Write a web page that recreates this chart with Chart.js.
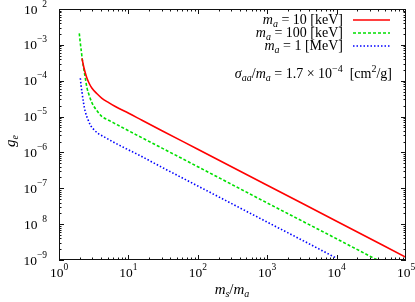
<!DOCTYPE html>
<html>
<head>
<meta charset="utf-8">
<script src="https://cdn.jsdelivr.net/npm/chart.js@4.4.1/dist/chart.umd.min.js"></script>
<style>
  html, body { margin: 0; padding: 0; background: #fff; }
  #wrap { width: 415px; height: 302px; }
</style>
</head>
<body>
<div id="wrap"><canvas id="chart" width="415" height="302"></canvas></div>
<script>
// --- DATA ---
const ratio10keV = [2.14, 2.2, 2.27, 2.4, 2.53, 2.75, 2.99, 3.5, 4.16, 5.2, 6.48, 10.1, 15.7, 30, 100, 1000, 10000, 100000];
const g10keV     = [4.2e-4, 3.3e-4, 2.46e-4, 1.62e-4, 1.17e-4, 8.1e-5, 6.15e-5, 4.4e-5, 3.24e-5, 2.45e-5, 1.9e-5, 1.24e-5, 7.9e-6, 4.1e-6, 1.23e-6, 1.22e-7, 1.2e-8, 1.19e-9];

const ratio100keV = [1.96, 2.02, 2.1, 2.18, 2.27, 2.4, 2.53, 2.75, 2.99, 3.5, 4.16, 5.2, 6.48, 10.1, 15.7, 30, 100, 1000, 10000, 38600];
const g100keV     = [2.1e-3, 1.2e-3, 6.5e-4, 3.6e-4, 2.2e-4, 1.15e-4, 6.3e-5, 3.7e-5, 2.4e-5, 1.48e-5, 1.0e-5, 7.9e-6, 6.3e-6, 4.0e-6, 2.56e-6, 1.34e-6, 4.0e-7, 3.9e-8, 3.9e-9, 1.0e-9];

const ratio1MeV = [2.03, 2.08, 2.14, 2.25, 2.39, 2.6, 2.83, 3.2, 3.73, 4.6, 5.8, 7.6, 10.1, 14.1, 30, 100, 1000, 3000, 10000];
const g1MeV     = [1.17e-4, 7.4e-5, 4.9e-5, 2.5e-5, 1.38e-5, 8.5e-6, 5.8e-6, 4.27e-6, 3.3e-6, 2.63e-6, 2.04e-6, 1.55e-6, 1.17e-6, 8.5e-7, 3.9e-7, 1.16e-7, 1.14e-8, 3.8e-9, 1.12e-9];

const massValues = ['10', '100', '1'];
const massUnits  = ['keV', 'keV', 'MeV'];
const sigmaOverM = '1.7';

// tick labels: exponent of 10 (the reference drops the minus on two of them)
const xTickExps = ['0', '1', '2', '3', '4', '5'];
const yTickExps = ['−9', '  8', '−7', '−6', '−5', '−4', '−3', '  2'];

const SERIF = '"Liberation Serif", "DejaVu Serif", serif';
const pts = (xs, ys) => xs.map((v, i) => ({ x: v, y: ys[i] }));

// draw a run of text pieces: [text, size, italic, dy]
const fnt = p => `${p[2] ? 'italic ' : ''}${p[1]}px ${SERIF}`;
function rich(ctx, parts, x, y, align) {
    let w = 0;
    parts.forEach(p => { ctx.font = fnt(p); w += ctx.measureText(p[0]).width; });
    let cx = align === 'right' ? x - w : align === 'center' ? x - w / 2 : x;
    parts.forEach(p => {
        ctx.font = fnt(p);
        ctx.fillText(p[0], cx, y + (p[3] || 0));
        cx += ctx.measureText(p[0]).width;
    });
}

// --- FRAME, TICKS, LABELS, LEGEND ---
const decor = {
    id: 'decor',
    afterDatasetsDraw(chart) {
        const { ctx, chartArea: a, scales: { x, y } } = chart;
        ctx.save();
        ctx.strokeStyle = '#111';
        ctx.fillStyle = '#000';
        ctx.lineWidth = 1;
        ctx.textAlign = 'left';
        ctx.textBaseline = 'alphabetic';

        ctx.strokeRect(a.left + 0.5, a.top + 0.5, a.right - a.left - 1, a.bottom - a.top - 1);

        ctx.beginPath();
        for (let k = 0; k < 5; k++) {
            for (let m = 1; m <= 9; m++) {
                const px = Math.round(x.getPixelForValue(m * 10 ** k)) + 0.5;
                const len = m === 1 ? 5 : 2.5;
                ctx.moveTo(px, a.bottom); ctx.lineTo(px, a.bottom - len);
                ctx.moveTo(px, a.top); ctx.lineTo(px, a.top + len);
            }
        }
        for (let k = -9; k < -2; k++) {
            for (let m = 1; m <= 9; m++) {
                const py = Math.round(y.getPixelForValue(m * 10 ** k)) + 0.5;
                const len = m === 1 ? 5 : 2.5;
                ctx.moveTo(a.left, py); ctx.lineTo(a.left + len, py);
                ctx.moveTo(a.right, py); ctx.lineTo(a.right - len, py);
            }
        }
        ctx.stroke();

        xTickExps.forEach((e, i) => {
            const px = x.getPixelForValue(10 ** i);
            rich(ctx, [['10', 13.5], [e, 9.5, false, -7]], px, 277, 'center');
        });
        yTickExps.forEach((e, i) => {
            const py = y.getPixelForValue(10 ** (i - 9));
            rich(ctx, [['10', 13.5], [e, 9.5, false, -7]], 47, py + 4.5, 'right');
        });

        // axis titles
        rich(ctx, [['m', 15, true], ['s', 10, true, 3], ['/', 15], ['m', 15, true], ['a', 10, true, 3]], 232, 294, 'center');
        ctx.save();
        ctx.translate(15, 141);
        ctx.rotate(-Math.PI / 2);
        rich(ctx, [['g', 15, true], ['e', 10, true, 3]], 0, 0, 'center');
        ctx.restore();

        // legend
        chart.data.datasets.forEach((ds, i) => {
            const ry = 19.5 + i * 13;
            rich(ctx, [['m', 14, true], ['a', 10, true, 3], [' = ' + massValues[i] + ' [' + massUnits[i] + ']', 14]], 343, ry + 4.5, 'right');
            ctx.save();
            ctx.strokeStyle = ds.borderColor;
            ctx.lineWidth = ds.borderWidth;
            ctx.setLineDash(ds.borderDash || []);
            ctx.beginPath();
            ctx.moveTo(353, ry + 0.5);
            ctx.lineTo(390, ry + 0.5);
            ctx.stroke();
            ctx.restore();
        });

        rich(ctx, [['σ', 14, true], ['aa', 10, true, 3], ['/', 14], ['m', 14, true], ['a', 10, true, 3],
            [' = ' + sigmaOverM + ' × 10', 14], ['−4', 10, false, -6], ['  [cm', 14], ['2', 10, false, -6], ['/g]', 14]],
            392, 78, 'right');

        ctx.restore();
    }
};

new Chart(document.getElementById('chart'), {
    type: 'scatter',
    data: {
        datasets: [
            { data: pts(ratio10keV, g10keV), borderColor: '#ff0000', borderWidth: 1.6 },
            { data: pts(ratio100keV, g100keV), borderColor: '#00e000', borderWidth: 1.6, borderDash: [3, 2] },
            { data: pts(ratio1MeV, g1MeV), borderColor: '#0000ff', borderWidth: 1.6, borderDash: [1.5, 2] }
        ].map(d => ({ ...d, showLine: true, pointRadius: 0, cubicInterpolationMode: 'monotone' }))
    },
    options: {
        responsive: false,
        animation: false,
        layout: { padding: { left: 59, right: 9, top: 9, bottom: 42 } },
        plugins: { legend: { display: false }, tooltip: { enabled: false } },
        scales: {
            x: { type: 'logarithmic', min: 1, max: 1e5, display: false },
            y: { type: 'logarithmic', min: 1e-9, max: 1e-2, display: false }
        }
    },
    plugins: [decor]
});
</script>
</body>
</html>
